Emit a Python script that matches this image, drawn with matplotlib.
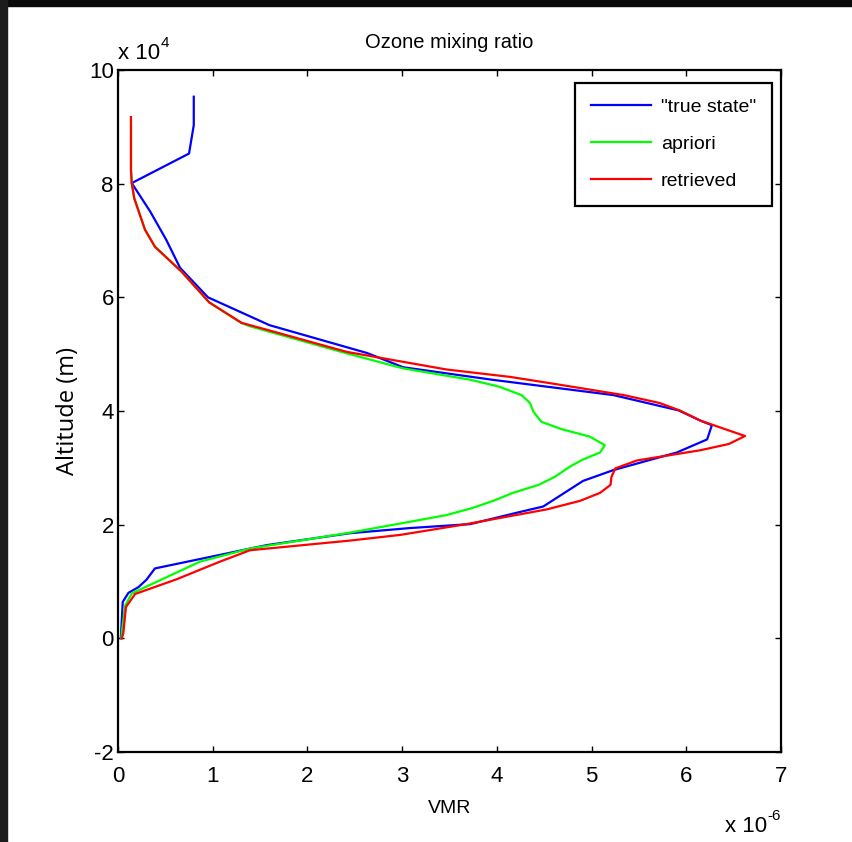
import matplotlib
matplotlib.use("Agg")
from matplotlib import pyplot as plt
from matplotlib.patches import Rectangle

# VMR in units of 1e-6, altitude in units of 1e4 m
true_vmr = [0.80, 0.80, 0.75, 0.145, 0.34, 0.51, 0.655, 0.95, 1.60, 2.63, 3.01, 3.95,
            5.23, 5.92, 6.15, 6.27, 6.22, 5.90, 5.23, 4.91, 4.49, 4.21, 3.72, 3.08,
            2.45, 1.57, 0.39, 0.30, 0.215, 0.11, 0.05, 0.04, 0.03]
true_alt = [9.53, 9.03, 8.53, 8.01, 7.51, 7.01, 6.52, 6.00, 5.51, 5.02, 4.77, 4.55,
            4.28, 4.01, 3.83, 3.75, 3.50, 3.27, 2.96, 2.77, 2.32, 2.21, 2.01, 1.94,
            1.85, 1.64, 1.23, 1.03, 0.90, 0.80, 0.64, 0.32, 0.0]

apriori_vmr = [0.137, 0.137, 0.145, 0.172, 0.285, 0.39, 0.672, 0.964, 1.30, 1.394,
               2.38, 3.01, 3.72, 4.02, 4.26, 4.35, 4.385, 4.47, 4.685, 4.98, 5.14,
               5.09, 4.90, 4.77, 4.61, 4.44, 4.17, 3.98, 3.735, 3.47, 2.98, 2.45,
               1.394, 0.866, 0.145, 0.074, 0.039, 0.035]
apriori_alt = [9.17, 8.24, 8.01, 7.74, 7.19, 6.89, 6.45, 5.91, 5.55, 5.49,
               5.03, 4.75, 4.55, 4.43, 4.28, 4.14, 3.99, 3.81, 3.68, 3.55, 3.40,
               3.27, 3.14, 3.02, 2.84, 2.70, 2.56, 2.43, 2.29, 2.17, 2.02, 1.86,
               1.58, 1.35, 0.79, 0.57, 0.08, 0.0]

retrieved_vmr = [0.137, 0.137, 0.145, 0.172, 0.285, 0.39, 0.672, 0.964, 1.306, 1.57,
                 2.415, 3.47, 4.14, 4.56, 5.34, 5.72, 5.93, 6.15, 6.62, 6.45, 6.15,
                 5.48, 5.25, 5.21, 5.20, 5.09, 4.88, 4.53, 3.68, 2.98, 2.45, 1.394,
                 1.077, 0.62, 0.18, 0.084, 0.056, 0.04]
retrieved_alt = [9.17, 8.24, 8.01, 7.74, 7.19, 6.89, 6.45, 5.91, 5.55, 5.43,
                 5.04, 4.73, 4.60, 4.49, 4.28, 4.14, 4.01, 3.83, 3.56, 3.42, 3.31,
                 3.13, 2.99, 2.84, 2.70, 2.56, 2.42, 2.27, 2.01, 1.82, 1.72, 1.55,
                 1.35, 1.04, 0.78, 0.55, 0.09, 0.0]

x_ticks = [0, 1, 2, 3, 4, 5, 6, 7]
y_ticks = [-2, 0, 2, 4, 6, 8, 10]

plt.rcParams['font.family'] = ['Liberation Sans', 'DejaVu Sans']
plt.rcParams['axes.unicode_minus'] = False

fig = plt.figure(figsize=(8.53, 8.42), dpi=100)
ax = fig.add_axes([118 / 853, 1 - 752 / 842, 663 / 853, 682 / 842])

# dark border strips of the screenshot
fig.patches.append(Rectangle((0, 1 - 6 / 842), 1, 6 / 842, transform=fig.transFigure,
                             color='#0a0a0a', zorder=0))
fig.patches.append(Rectangle((0, 0), 7 / 853, 1, transform=fig.transFigure,
                             color='#1c1c1c', zorder=0))

ax.plot(true_vmr, true_alt, color=(0, 0, 1), lw=1.6, label='"true state"')
ax.plot(apriori_vmr, apriori_alt, color=(0, 1, 0), lw=1.6, label='apriori')
ax.plot(retrieved_vmr, retrieved_alt, color=(1, 0, 0), lw=1.6, label='retrieved')

ax.set_xlim(0, 7)
ax.set_ylim(-2, 10)
ax.set_xticks(x_ticks)
ax.set_yticks(y_ticks)
ax.tick_params(direction='in', length=4, width=1, top=True, right=True, labelsize=16)
ax.tick_params(axis='x', pad=10)
ax.tick_params(axis='y', pad=3)
for s in ax.spines.values():
    s.set_linewidth(1.6)

ax.set_title('Ozone mixing ratio', fontsize=14.5, pad=16)
ax.set_xlabel('VMR', fontsize=14)
ax.xaxis.set_label_coords(0.5, -0.07)
ax.set_ylabel('Altitude (m)', fontsize=17, family=['Open Sans', 'DejaVu Sans'])
ax.yaxis.set_label_coords(-0.057, 0.5)

# scale factors, MATLAB style
ax.annotate('x 10', xy=(0.0, 1.016), xycoords='axes fraction', ha='left',
            va='baseline', fontsize=16)
ax.annotate('4', xy=(0.0, 1.016), xycoords='axes fraction', xytext=(31, 9),
            textcoords='offset points', ha='left', va='baseline', fontsize=11)
ax.annotate('x 10', xy=(1.0, -0.118), xycoords='axes fraction', xytext=(-10, 0),
            textcoords='offset points', ha='right', va='baseline', fontsize=16)
ax.annotate('-6', xy=(1.0, -0.118), xycoords='axes fraction', xytext=(0, 9),
            textcoords='offset points', ha='right', va='baseline', fontsize=11)

leg = ax.legend(loc='upper right', bbox_to_anchor=(0.986, 0.981), borderaxespad=0,
                fontsize=14, fancybox=False, handlelength=3.1, labelspacing=1.0,
                borderpad=0.8, handletextpad=0.5)
leg.get_frame().set_edgecolor('black')
leg.get_frame().set_linewidth(1.6)
leg.get_frame().set_alpha(1)

fig.savefig('out.png', dpi=100)
